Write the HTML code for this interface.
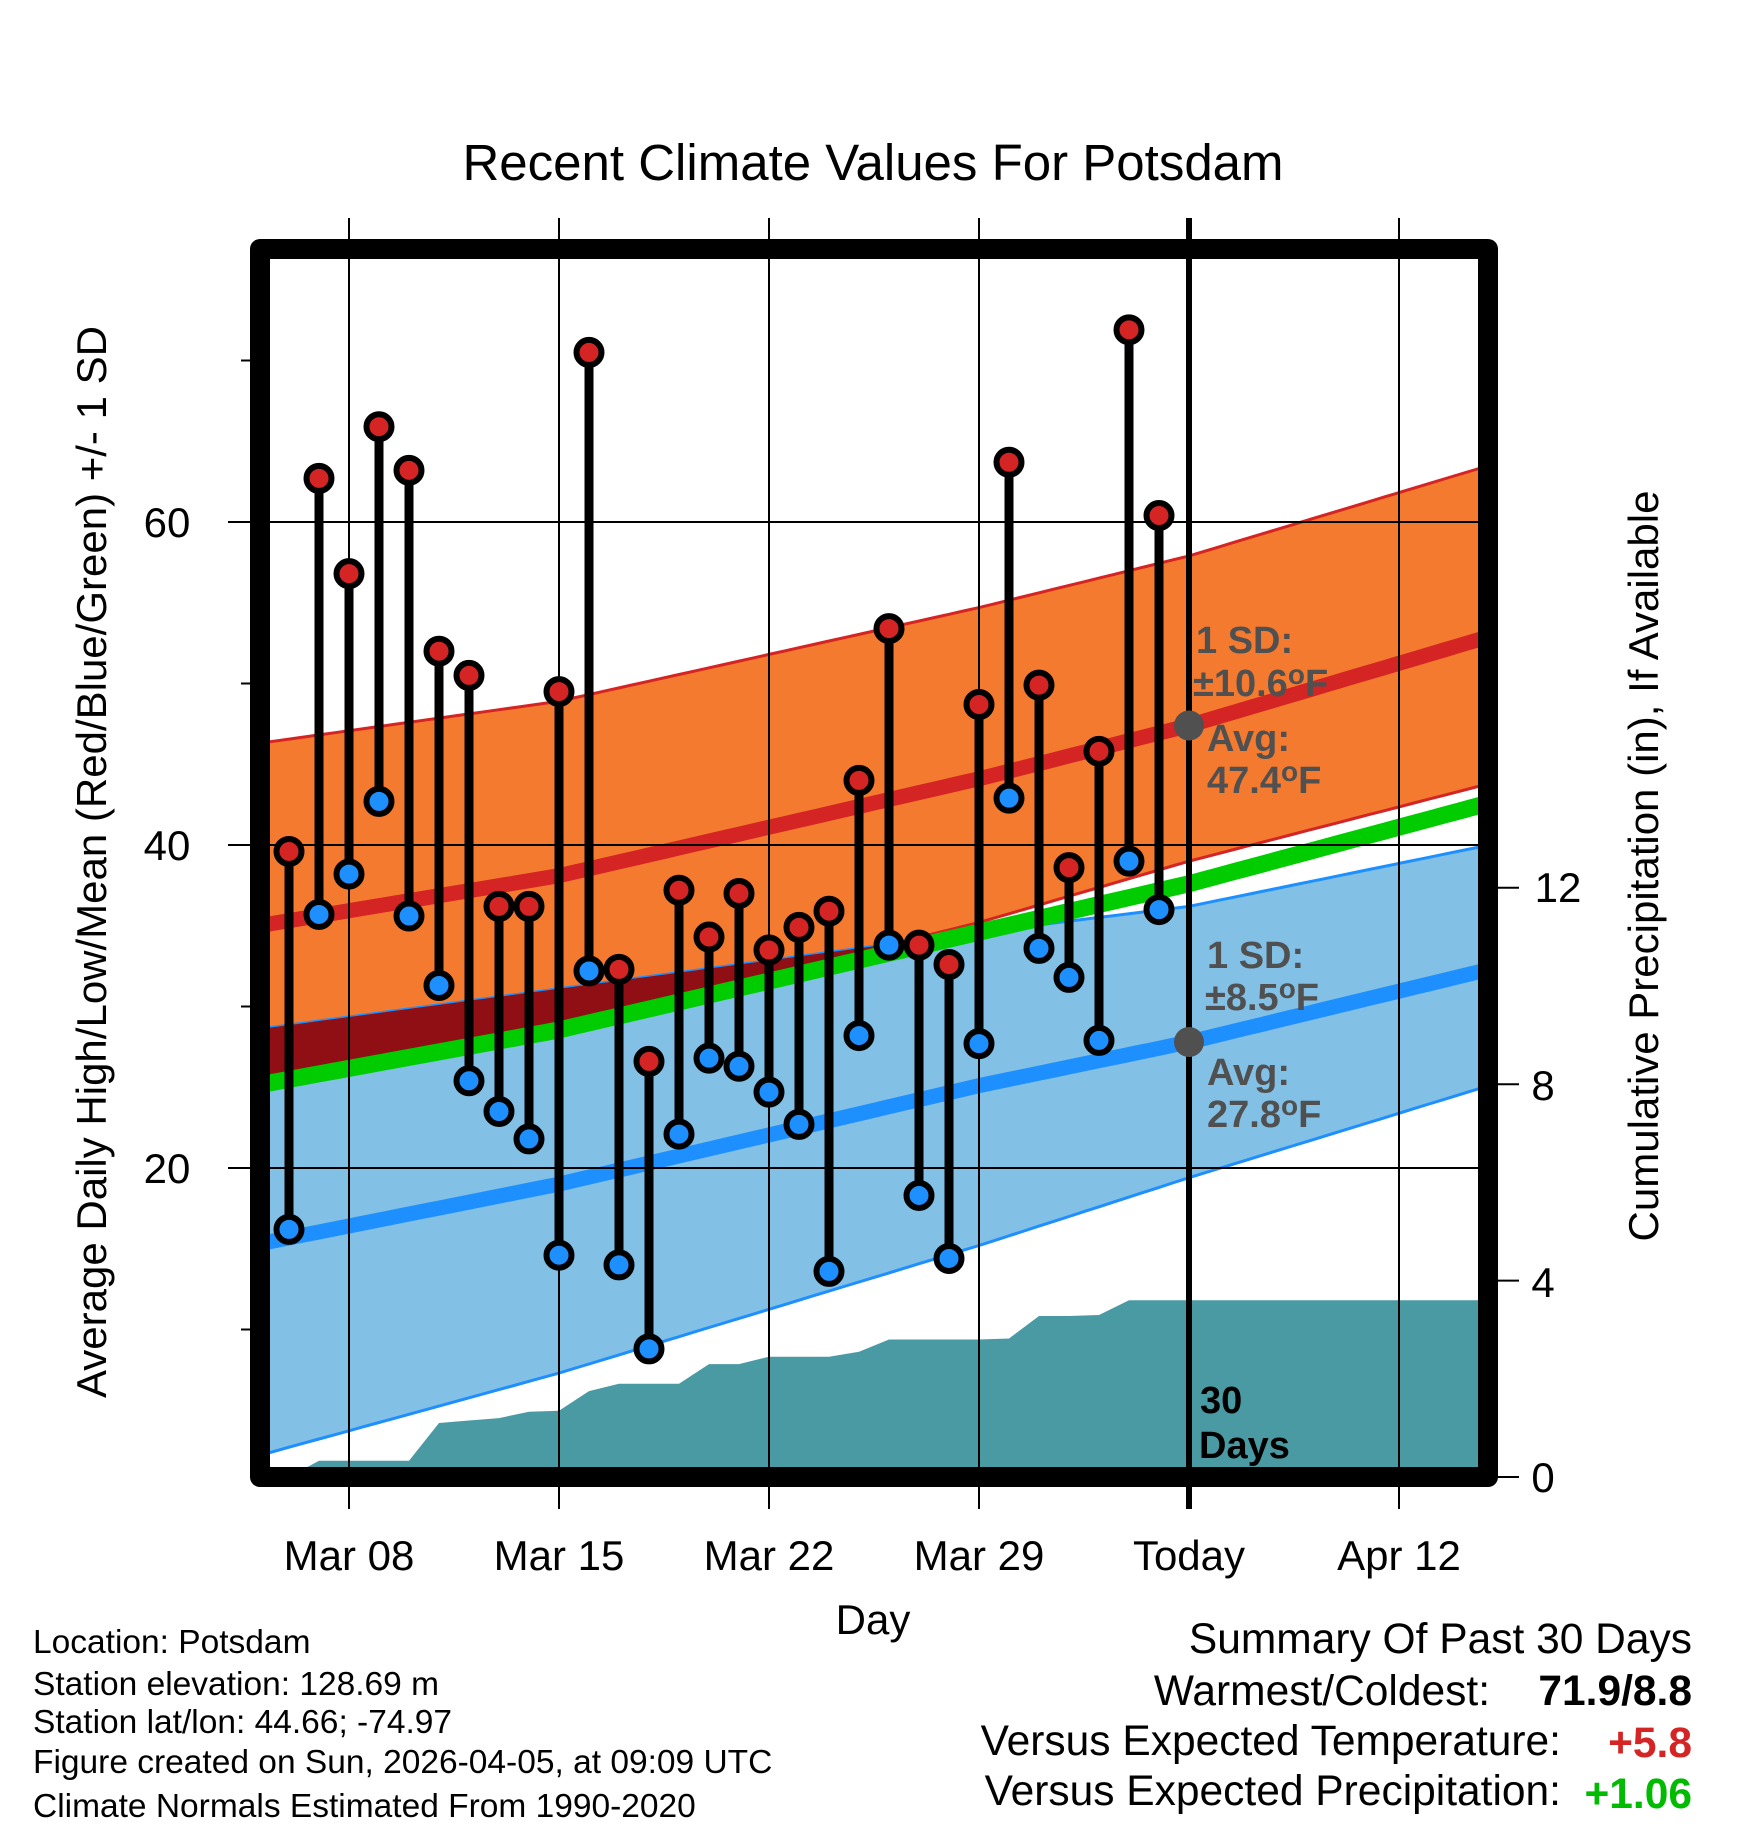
<!DOCTYPE html>
<html><head><meta charset="utf-8">
<style>
html,body{margin:0;padding:0;background:#fff;}
svg{display:block;font-family:"Liberation Sans",Arial,sans-serif;}
</style></head>
<body>
<svg id="chart" width="1748" height="1828" viewBox="0 0 1748 1828" xmlns="http://www.w3.org/2000/svg">
<rect x="0" y="0" width="1748" height="1828" fill="#fff"/>
<g id="bands"></g>
<g id="precip"></g>
<g id="grid"></g>
<g id="stems"></g>
<g id="annot"></g>
</svg>
<script>
// ---------- data ----------
const dayLabels = ["Mar 06","Mar 07","Mar 08","Mar 09","Mar 10","Mar 11","Mar 12","Mar 13","Mar 14","Mar 15","Mar 16","Mar 17","Mar 18","Mar 19","Mar 20","Mar 21","Mar 22","Mar 23","Mar 24","Mar 25","Mar 26","Mar 27","Mar 28","Mar 29","Mar 30","Mar 31","Apr 01","Apr 02","Apr 03","Apr 04"];
const highs = [39.6,62.7,56.8,65.9,63.2,52.0,50.5,36.2,36.2,49.5,70.5,32.3,26.6,37.2,34.3,37.0,33.5,34.9,35.9,44.0,53.4,33.8,32.6,48.7,63.7,49.9,38.6,45.8,71.9,60.4];
const lows = [16.2,35.7,38.2,42.7,35.6,31.3,25.4,23.5,21.8,14.6,32.2,14.0,8.8,22.1,26.8,26.3,24.7,22.7,13.6,28.2,33.8,18.3,14.4,27.7,42.9,33.6,31.8,27.9,39.0,36.0];
const precipCum = [0.0,0.33,0.33,0.33,0.33,1.1,1.15,1.2,1.33,1.35,1.75,1.9,1.9,1.9,2.3,2.3,2.45,2.45,2.45,2.55,2.8,2.8,2.8,2.8,2.82,3.28,3.28,3.3,3.6,3.6];
// normals sampled at day offsets from Mar 05
const normDays = [0,10,24,31,41];
const avgHigh = [35.0,38.1,44.1,47.4,52.9];
const highTop = [46.3,48.9,54.7,57.9,63.5];
const highBot = [24.0,28.8,35.2,39.0,43.8];
const avgLow = [15.3,19.0,25.1,27.8,32.3];
const lowTop = [28.6,31.1,34.6,36.2,40.0];
const lowBot = [2.2,7.3,15.2,19.4,25.1];
const xTickDays = [3,10,17,24,31,38];
const xTickLabels = ["Mar 08","Mar 15","Mar 22","Mar 29","Today","Apr 12"];
const yTicks = [20,40,60];
const yMinor = [10,30,50,70];
const pTicks = [0,4,8,12];

// ---------- axes ----------
const L=260,R=1488,T=249,B=1477;
const X=d=>349+(d-3)*30;
const Y=t=>1491-16.15*t;
const P=p=>1477-49.1*p;
const NS="http://www.w3.org/2000/svg";
function mk(tag,attrs,parent){const e=document.createElementNS(NS,tag);for(const k in attrs)e.setAttribute(k,attrs[k]);if(parent)parent.appendChild(e);return e;}
function interp(arr,d){for(let i=0;i<normDays.length-1;i++){if(d<=normDays[i+1]){const f=(d-normDays[i])/(normDays[i+1]-normDays[i]);return arr[i]+f*(arr[i+1]-arr[i]);}}return arr[arr.length-1];}
const samp=[];for(let d=0;d<=41;d+=0.5)samp.push(d);
function line(arr){return samp.map(d=>X(d).toFixed(1)+","+Y(interp(arr,d)).toFixed(1));}
function band(topA,botA){return line(topA).concat(line(botA).reverse()).join(" ");}

const bands=document.getElementById('bands');
let e;
e=mk('polygon',{points:band(highTop,highBot),fill:'#f47a2f',stroke:'#d42424','stroke-width':3},bands);

e=mk('polygon',{points:band(lowTop,lowBot),fill:'#82c0e6',stroke:'#1e8fff','stroke-width':3},bands);

const meanArr=avgHigh.map((h,i)=>(h+avgLow[i])/2);
// overlap (only above mean line)
const ov=[];const ovb=[];
samp.forEach(d=>{const top=interp(lowTop,d),bot=Math.max(interp(highBot,d),interp(meanArr,d));if(top>bot){ov.push(X(d).toFixed(1)+","+Y(top).toFixed(1));ovb.push(X(d).toFixed(1)+","+Y(bot).toFixed(1));}});
if(ov.length){e=mk('polygon',{points:ov.concat(ovb.reverse()).join(" "),fill:'#8f0f14'},bands);
}
e=mk('polyline',{points:line(meanArr).join(" "),fill:'none',stroke:'#00cc00','stroke-width':17},bands);

e=mk('polyline',{points:line(avgHigh).join(" "),fill:'none',stroke:'#d42424','stroke-width':15},bands);

e=mk('polyline',{points:line(avgLow).join(" "),fill:'none',stroke:'#1e8fff','stroke-width':15},bands);

mk('rect',{x:0,y:B,width:1748,height:40,fill:'#fff'},bands);

// precip
const pg=document.getElementById('precip');
const pp=[X(0)+","+P(0)];
precipCum.forEach((v,i)=>pp.push(X(i+1).toFixed(1)+","+P(v).toFixed(1)));
pp.push(X(41)+","+P(precipCum[precipCum.length-1]).toFixed(1));
pp.push(X(41)+","+B);pp.push(X(0)+","+B);
e=mk('polygon',{points:pp.join(" "),fill:'#4a9aa4'},pg);


// grid
const gg=document.getElementById('grid');
xTickDays.forEach((d,i)=>{
  if(xTickLabels[i]!=="Today"){e=mk('line',{x1:X(d),x2:X(d),y1:218,y2:1509,stroke:'#000','stroke-width':2},gg);
  }
});
yTicks.forEach(t=>{e=mk('line',{x1:228,x2:R,y1:Y(t),y2:Y(t),stroke:'#000','stroke-width':2},gg);
  });
yMinor.forEach(t=>{e=mk('line',{x1:241,x2:L,y1:Y(t),y2:Y(t),stroke:'#000','stroke-width':2},gg);
  });
pTicks.forEach(p=>{e=mk('line',{x1:R,x2:1519,y1:P(p),y2:P(p),stroke:'#000','stroke-width':2},gg);
  });

// stems
const sg=document.getElementById('stems');
highs.forEach((h,i)=>{
  const x=X(i+1);
  e=mk('line',{x1:x,x2:x,y1:Y(h),y2:Y(lows[i]),stroke:'#000','stroke-width':9},sg);
  
});
highs.forEach((h,i)=>{
  const x=X(i+1);
  e=mk('circle',{cx:x,cy:Y(h),r:12.5,fill:'#d42424',stroke:'#000','stroke-width':6},sg);
  
  e=mk('circle',{cx:x,cy:Y(lows[i]),r:12.5,fill:'#1e8fff',stroke:'#000','stroke-width':6},sg);
  
});

// annotations
const ag=document.getElementById('annot');
e=mk('line',{x1:X(31),x2:X(31),y1:218,y2:1509,stroke:'#000','stroke-width':6},ag);

e=mk('circle',{cx:X(31),cy:Y(interp(avgHigh,31)),r:15,fill:'#505050'},ag);

e=mk('circle',{cx:X(31),cy:Y(interp(avgLow,31)),r:15,fill:'#505050'},ag);

</script>
<svg style="position:absolute;left:0;top:0" width="1748" height="1828" viewBox="0 0 1748 1828" xmlns="http://www.w3.org/2000/svg" font-family="Liberation Sans, Arial, sans-serif">
<g font-weight="bold" fill="#505050" font-size="38">
<text x="1196" y="653">1 SD:</text>
<text x="1193" y="696">±10.6<tspan dy="-12" font-size="28">o</tspan><tspan dy="12">F</tspan></text>
<text x="1207" y="751">Avg:</text>
<text x="1207" y="793">47.4<tspan dy="-12" font-size="28">o</tspan><tspan dy="12">F</tspan></text>
<text x="1207" y="968">1 SD:</text>
<text x="1205" y="1010">±8.5<tspan dy="-12" font-size="28">o</tspan><tspan dy="12">F</tspan></text>
<text x="1207" y="1085">Avg:</text>
<text x="1207" y="1127">27.8<tspan dy="-12" font-size="28">o</tspan><tspan dy="12">F</tspan></text>
</g>
<g font-weight="bold" fill="#000" font-size="38">
<text x="1200" y="1413">30</text>
<text x="1199" y="1458">Days</text>
</g>
<rect x="260" y="249" width="1228" height="1228" fill="none" stroke="#000" stroke-width="20" stroke-linejoin="round"/>
<text x="873" y="180" text-anchor="middle" font-size="51">Recent Climate Values For Potsdam</text>
<g font-size="42" text-anchor="middle">
<text x="167" y="537">60</text>
<text x="167" y="860">40</text>
<text x="167" y="1183">20</text>
<text x="1558" y="902">12</text>
<text x="1543" y="1100">8</text>
<text x="1543" y="1297">4</text>
<text x="1543" y="1492">0</text>
<text x="349" y="1570">Mar 08</text>
<text x="559" y="1570">Mar 15</text>
<text x="769" y="1570">Mar 22</text>
<text x="979" y="1570">Mar 29</text>
<text x="1189" y="1570">Today</text>
<text x="1399" y="1570">Apr 12</text>
<text x="873" y="1634">Day</text>
</g>
<text transform="translate(106,862) rotate(-90)" text-anchor="middle" font-size="42">Average Daily High/Low/Mean (Red/Blue/Green) +/- 1 SD</text>
<text transform="translate(1658,866) rotate(-90)" text-anchor="middle" font-size="42">Cumulative Precipitation (in), If Available</text>
<g font-size="33.5">
<text x="33" y="1653">Location: Potsdam</text>
<text x="33" y="1695">Station elevation: 128.69 m</text>
<text x="33" y="1733">Station lat/lon: 44.66; -74.97</text>
<text x="33" y="1773">Figure created on Sun, 2026-04-05, at 09:09 UTC</text>
<text x="33" y="1817">Climate Normals Estimated From 1990-2020</text>
</g>
<g font-size="42.5" text-anchor="end">
<text x="1692" y="1653">Summary Of Past 30 Days</text>
<text x="1490" y="1705">Warmest/Coldest:</text>
<text x="1692" y="1705" font-weight="bold">71.9/8.8</text>
<text x="1561" y="1755">Versus Expected Temperature:</text>
<text x="1692" y="1757" font-weight="bold" fill="#d42424">+5.8</text>
<text x="1561" y="1805">Versus Expected Precipitation:</text>
<text x="1692" y="1808" font-weight="bold" fill="#00bb00">+1.06</text>
</g>
</svg>
</body></html>
